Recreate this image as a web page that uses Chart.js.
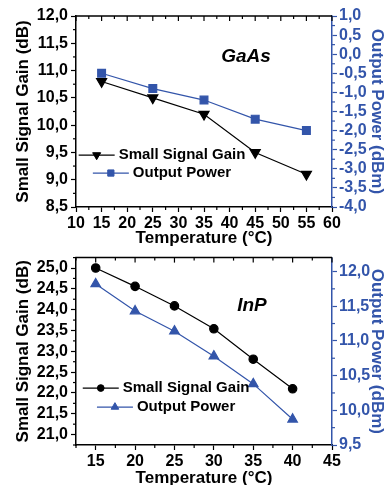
<!DOCTYPE html>
<html>
<head>
<meta charset="utf-8">
<script src="https://cdn.jsdelivr.net/npm/chart.js@4.4.1/dist/chart.umd.min.js"></script>
<style>
  body { margin: 0; background: #fff; width: 388px; height: 485px; overflow: hidden; position: relative; }
  canvas { position: absolute; left: 0; }
  #gaasChart { top: 0; }
  #inpChart { top: 245px; }
</style>
</head>
<body>
<canvas id="gaasChart" width="388" height="250"></canvas>
<canvas id="inpChart" width="388" height="245"></canvas>
<script>
// GaAs amplifier
const gaasTemps = [15, 25, 35, 45, 55];
const gaasGain = [10.8, 10.5, 10.2, 9.5, 9.1];
const gaasPower = [-0.5, -0.9, -1.2, -1.7, -2.0];
const gaasTempTicks = [10, 15, 20, 25, 30, 35, 40, 45, 50, 55, 60];
const gaasGainTicks = [8.5, 9.0, 9.5, 10.0, 10.5, 11.0, 11.5, 12.0];
const gaasPowerTicks = [-4.0, -3.5, -3.0, -2.5, -2.0, -1.5, -1.0, -0.5, 0.0, 0.5, 1.0];

// InP amplifier
const inpTemps = [15, 20, 25, 30, 35, 40];
const inpGain = [25.0, 24.56, 24.09, 23.54, 22.81, 22.10];
const inpPower = [11.82, 11.43, 11.14, 10.78, 10.38, 9.87];
const inpTempTicks = [15, 20, 25, 30, 35, 40, 45];
const inpGainTicks = [21.0, 21.5, 22.0, 22.5, 23.0, 23.5, 24.0, 24.5, 25.0];
const inpPowerTicks = [9.5, 10.0, 10.5, 11.0, 11.5, 12.0];

const BLUE = '#3355aa';
const FONT = '"Liberation Sans", Arial, sans-serif';
const tickFont = { family: FONT, size: 16, weight: 'bold' };
const titleFont = { family: FONT, size: 17, weight: 'bold' };

const comma = v => v.toFixed(1).replace('.', ',');
const setTicks = arr => scale => { scale.ticks = arr.map(v => ({ value: v })); };

function minorValues(ticks, min, max) {
  const step = ticks[1] - ticks[0];
  const out = [];
  for (let v = ticks[0] - step / 2; v <= max + 1e-9; v += step) {
    if (v >= min - 1e-9) out.push(v);
  }
  return out;
}

function seg(ctx, x1, y1, x2, y2) {
  ctx.beginPath(); ctx.moveTo(x1, y1); ctx.lineTo(x2, y2); ctx.stroke();
}

// top border with inward ticks, plus minor ticks on every axis
const frame = {
  id: 'frame',
  afterDraw(chart) {
    const { ctx, chartArea: a, scales } = chart;
    ctx.save();
    ctx.strokeStyle = '#000';
    ctx.lineWidth = 1.5;
    seg(ctx, a.left - 0.75, a.top, a.right, a.top);
    ctx.lineWidth = 1.2;
    const x = scales.x;
    const xt = x.ticks.map(t => t.value);
    const xm = minorValues(xt, x.min, x.max);
    xt.forEach(v => seg(ctx, x.getPixelForValue(v), a.top, x.getPixelForValue(v), a.top + 5));
    xm.forEach(v => {
      const px = x.getPixelForValue(v);
      seg(ctx, px, a.top, px, a.top + 3);
      seg(ctx, px, a.bottom, px, a.bottom + 3);
    });
    const y = scales.y;
    minorValues(y.ticks.map(t => t.value), y.min, y.max).forEach(v => {
      const py = y.getPixelForValue(v);
      seg(ctx, a.left, py, a.left - 3, py);
    });
    ctx.strokeStyle = BLUE;
    const y1 = scales.y1;
    minorValues(y1.ticks.map(t => t.value), y1.min, y1.max).forEach(v => {
      const py = y1.getPixelForValue(v);
      seg(ctx, a.right, py, a.right + 3, py);
    });
    ctx.restore();
  }
};

// legend inside the plot, rows centred
const seriesLegend = {
  id: 'seriesLegend',
  afterDatasetsDraw(chart, args, opts) {
    const { ctx, chartArea: a } = chart;
    ctx.save();
    ctx.font = 'bold 15px ' + FONT;
    ctx.textBaseline = 'middle';
    ctx.textAlign = 'left';
    chart.data.datasets.forEach((ds, i) => {
      const w = 36 + 4 + ctx.measureText(ds.label).width;
      const x0 = a.left + a.width * opts.x - w / 2;
      const yy = a.top + a.height * opts.y + i * opts.gap;
      ctx.strokeStyle = ds.borderColor;
      ctx.fillStyle = ds.pointBackgroundColor;
      ctx.lineWidth = ds.borderWidth;
      seg(ctx, x0, yy, x0 + 36, yy);
      ctx.lineWidth = 1;
      Chart.helpers.drawPoint(ctx, {
        pointStyle: ds.pointStyle, rotation: ds.pointRotation || 0,
        radius: ds.pointRadius * 0.8, borderWidth: 1
      }, x0 + 18, yy);
      ctx.fillStyle = '#000';
      ctx.fillText(ds.label, x0 + 40, yy);
    });
    ctx.restore();
  }
};

const materialLabel = {
  id: 'materialLabel',
  afterDatasetsDraw(chart, args, opts) {
    const { ctx, chartArea: a } = chart;
    ctx.save();
    ctx.font = 'italic bold 19px ' + FONT;
    ctx.fillStyle = '#000';
    ctx.textAlign = 'center';
    ctx.textBaseline = 'middle';
    ctx.fillText(opts.text, a.left + a.width * opts.x, a.top + a.height * opts.y);
    ctx.restore();
  }
};

function makeChart(id, c) {
  return new Chart(document.getElementById(id), {
    type: 'line',
    data: {
      datasets: [{
        label: 'Small Signal Gain',
        data: c.temps.map((t, i) => ({ x: t, y: c.gain[i] })),
        yAxisID: 'y',
        borderColor: '#000',
        borderWidth: 1.2,
        pointBackgroundColor: '#000',
        pointBorderColor: '#000',
        pointStyle: c.gainMarker,
        pointRotation: c.gainRotation,
        pointRadius: c.gainRadius,
        tension: 0
      }, {
        label: 'Output Power',
        data: c.temps.map((t, i) => ({ x: t, y: c.power[i] })),
        yAxisID: 'y1',
        borderColor: BLUE,
        borderWidth: 1.2,
        pointBackgroundColor: BLUE,
        pointBorderColor: BLUE,
        pointStyle: c.powerMarker,
        pointRadius: c.powerRadius,
        tension: 0
      }]
    },
    options: {
      responsive: false,
      animation: false,
      layout: { padding: { top: c.padTop, left: 0, right: 0, bottom: 0 } },
      plugins: {
        legend: { display: false },
        tooltip: { enabled: false },
        seriesLegend: c.legend,
        materialLabel: c.label
      },
      scales: {
        x: {
          type: 'linear', position: 'bottom',
          min: c.xMin, max: c.xMax,
          afterBuildTicks: setTicks(c.xTicks),
          afterFit: s => { s.height = c.xHeight; },
          grid: { drawOnChartArea: false, tickLength: 5, tickWidth: 1.2, tickColor: '#000' },
          border: { color: '#000', width: 1.5 },
          ticks: { color: '#000', font: tickFont, padding: 2, maxRotation: 0, autoSkip: false },
          title: { display: true, text: 'Temperature (°C)', color: '#000', font: titleFont, padding: { top: 0, bottom: 1 } }
        },
        y: {
          position: 'left',
          min: c.yMin, max: c.yMax,
          afterBuildTicks: setTicks(c.yTicks),
          afterFit: s => { s.width = 76; },
          grid: { drawOnChartArea: false, tickLength: 5, tickWidth: 1.2, tickColor: '#000' },
          border: { color: '#000', width: 1.5 },
          ticks: { color: '#000', font: tickFont, padding: 3, callback: comma, autoSkip: false },
          title: { display: true, text: 'Small Signal Gain (dB)', color: '#000', font: titleFont, padding: { top: 13 } }
        },
        y1: {
          position: 'right',
          min: c.y1Min, max: c.y1Max,
          afterBuildTicks: setTicks(c.y1Ticks),
          afterFit: s => { s.width = 56; },
          grid: { drawOnChartArea: false, tickLength: 5, tickWidth: 1.2, tickColor: BLUE },
          border: { color: BLUE, width: 1.5 },
          ticks: { color: BLUE, font: tickFont, padding: 2, callback: comma, autoSkip: false },
          title: { display: true, text: 'Output Power (dBm)', color: BLUE, font: titleFont, padding: { top: 1 } }
        }
      }
    },
    plugins: [frame, seriesLegend, materialLabel]
  });
}

makeChart('gaasChart', {
  temps: gaasTemps, gain: gaasGain, power: gaasPower,
  xMin: 10, xMax: 60, xTicks: gaasTempTicks,
  yMin: 8.5, yMax: 12, yTicks: gaasGainTicks,
  y1Min: -4, y1Max: 1, y1Ticks: gaasPowerTicks,
  gainMarker: 'triangle', gainRotation: 180, gainRadius: 5.8,
  powerMarker: 'rect', powerRadius: 5.5,
  padTop: 16, xHeight: 43,
  legend: { x: 0.336, y: 0.728, gap: 18 },
  label: { text: 'GaAs', x: 0.664, y: 0.215 }
});

makeChart('inpChart', {
  temps: inpTemps, gain: inpGain, power: inpPower,
  xMin: 12.5, xMax: 45, xTicks: inpTempTicks,
  yMin: 20.75, yMax: 25.25, yTicks: inpGainTicks,
  y1Min: 9.5, y1Max: 12.2, y1Ticks: inpPowerTicks,
  gainMarker: 'circle', gainRotation: 0, gainRadius: 4.2,
  powerMarker: 'triangle', powerRadius: 5.5,
  padTop: 9, xHeight: 45,
  legend: { x: 0.352, y: 0.696, gap: 19 },
  label: { text: 'InP', x: 0.6875, y: 0.259 }
});
</script>
</body>
</html>
